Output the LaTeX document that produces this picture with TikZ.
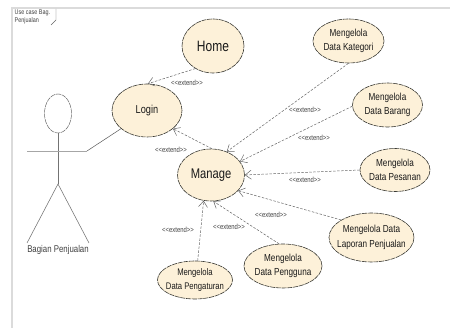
\documentclass[tikz,border=0pt]{standalone}
\usepackage{fontspec}
\setmainfont[FakeStretch=0.8]{Liberation Sans}
\usetikzlibrary{shapes.geometric,arrows.meta}
\definecolor{ucfill}{HTML}{FDF1D9}
\definecolor{ucline}{HTML}{3A3A34}
\newcommand{\exttext}{{<}{<}extend{>}{>}}
\tikzset{
  x=1pt,y=-1pt,
  usecase/.style={ellipse,draw=ucline,fill=ucfill,line width=.6pt,dash pattern=on 5pt off .8pt,inner sep=0pt},
  uctext/.style={align=center,text=black!90,inner sep=0pt,font=\fontsize{10.2}{14.5}\selectfont},
  ext/.style={draw=black!60,line width=.5pt,dash pattern=on 2.5pt off 1.5pt,-{Straight Barb[length=6pt,width=9pt,line width=.5pt]}},
  lab/.style={font=\fontsize{7.4}{8}\selectfont,text=black!75,inner sep=0pt},
  limb/.style={draw=black!55,line width=.55pt},
}
\begin{document}
\begin{tikzpicture}
\useasboundingbox (0,0) rectangle (450,328);
\fill[white] (0,0) rectangle (450,328);
% frame
\draw[black!14,line width=1.5pt] (450,8) -- (12,8) -- (12,328);
\draw[black!60,line width=.4pt] (56,9) -- (56,20) -- (51,25);
\node[anchor=west,align=left,inner sep=0pt,font=\fontsize{6.8}{8}\selectfont,text=black!75] (frametitle) at (14.5,16.5) {Use case Bag.\\Penjualan};
% actor
\node[ellipse,draw=black!60,line width=.5pt,dash pattern=on 5pt off .8pt,minimum width=27pt,minimum height=39pt,inner sep=0pt] (head) at (58,113.5) {};
\coordinate (hip) at (58,184);
\coordinate (armL) at (27,151);
\coordinate (armR) at (87,151);
\coordinate (legL) at (27,243);
\coordinate (legR) at (89,243);
\draw[limb] (head.south) -- (hip);
\draw[black!35,line width=.55pt] (armL) -- (armR);
\draw[limb] (hip) -- (legL);
\draw[limb] (hip) -- (legR);
\node[font=\fontsize{9.8}{10}\selectfont,text=black!75,inner sep=0pt] (actor) at (58,250) {Bagian Penjualan};
% use cases
\node[usecase,minimum width=62pt,minimum height=54pt] (home) at (213,46) {};
\node[usecase,minimum width=70pt,minimum height=53pt] (login) at (147,110.5) {};
\node[usecase,minimum width=67pt,minimum height=52pt] (manage) at (211,175) {};
\node[usecase,minimum width=71pt,minimum height=44pt] (kategori) at (348.5,41) {};
\node[usecase,minimum width=70pt,minimum height=44pt] (barang) at (387.5,105) {};
\node[usecase,minimum width=70pt,minimum height=43pt] (pesanan) at (395,170) {};
\node[usecase,minimum width=85pt,minimum height=49pt] (laporan) at (371.5,237.5) {};
\node[usecase,minimum width=78pt,minimum height=44pt] (pengguna) at (283,266) {};
\node[usecase,minimum width=75pt,minimum height=38pt] (pengaturan) at (195,280) {};
\node[uctext,font=\fontsize{15}{17}\selectfont] (thome) at (home) {Home};
\node[uctext,font=\fontsize{11.5}{13}\selectfont] (tlogin) at (login) {Login};
\node[uctext,font=\fontsize{14}{16}\selectfont] (tmanage) at (manage) {Manage};
\node[uctext] (tkategori) at (kategori) {Mengelola\\Data Kategori};
\node[uctext] (tbarang) at (barang) {Mengelola\\Data Barang};
\node[uctext] (tpesanan) at (pesanan) {Mengelola\\Data Pesanan};
\node[uctext] (tlaporan) at (laporan) {Mengelola Data\\Laporan Penjualan};
\node[uctext] (tpengguna) at (pengguna) {Mengelola\\Data Pengguna};
\node[uctext,font=\fontsize{9.6}{13.5}\selectfont] (tpengaturan) at (pengaturan) {Mengelola\\Data Pengaturan};
% connectors
\draw[black!65,line width=.5pt] (armR) -- (login.215);
\draw[ext] (home.232) -- (login.88);
\draw[ext] (manage.88) -- (login.-35);
\draw[ext] (kategori.south) -- (manage.56);
\draw[ext] (barang.182) -- (manage.25);
\draw[ext] (pesanan.west) -- (manage.east);
\draw[ext] (laporan.150) -- (manage.-30);
\draw[ext] (pengguna.100) -- (manage.-85);
\draw[ext] (pengaturan.82) -- (manage.-106);
% labels
\node[lab] (l1) at (187,83) {\exttext};
\node[lab] (l2) at (171,150) {\exttext};
\node[lab] (l3) at (305,109.5) {\exttext};
\node[lab] (l4) at (314,138) {\exttext};
\node[lab] (l5) at (305,180) {\exttext};
\node[lab] (l6) at (271,214.5) {\exttext};
\node[lab] (l7) at (229,226.5) {\exttext};
\node[lab] (l8) at (178,230) {\exttext};
\end{tikzpicture}
\end{document}
